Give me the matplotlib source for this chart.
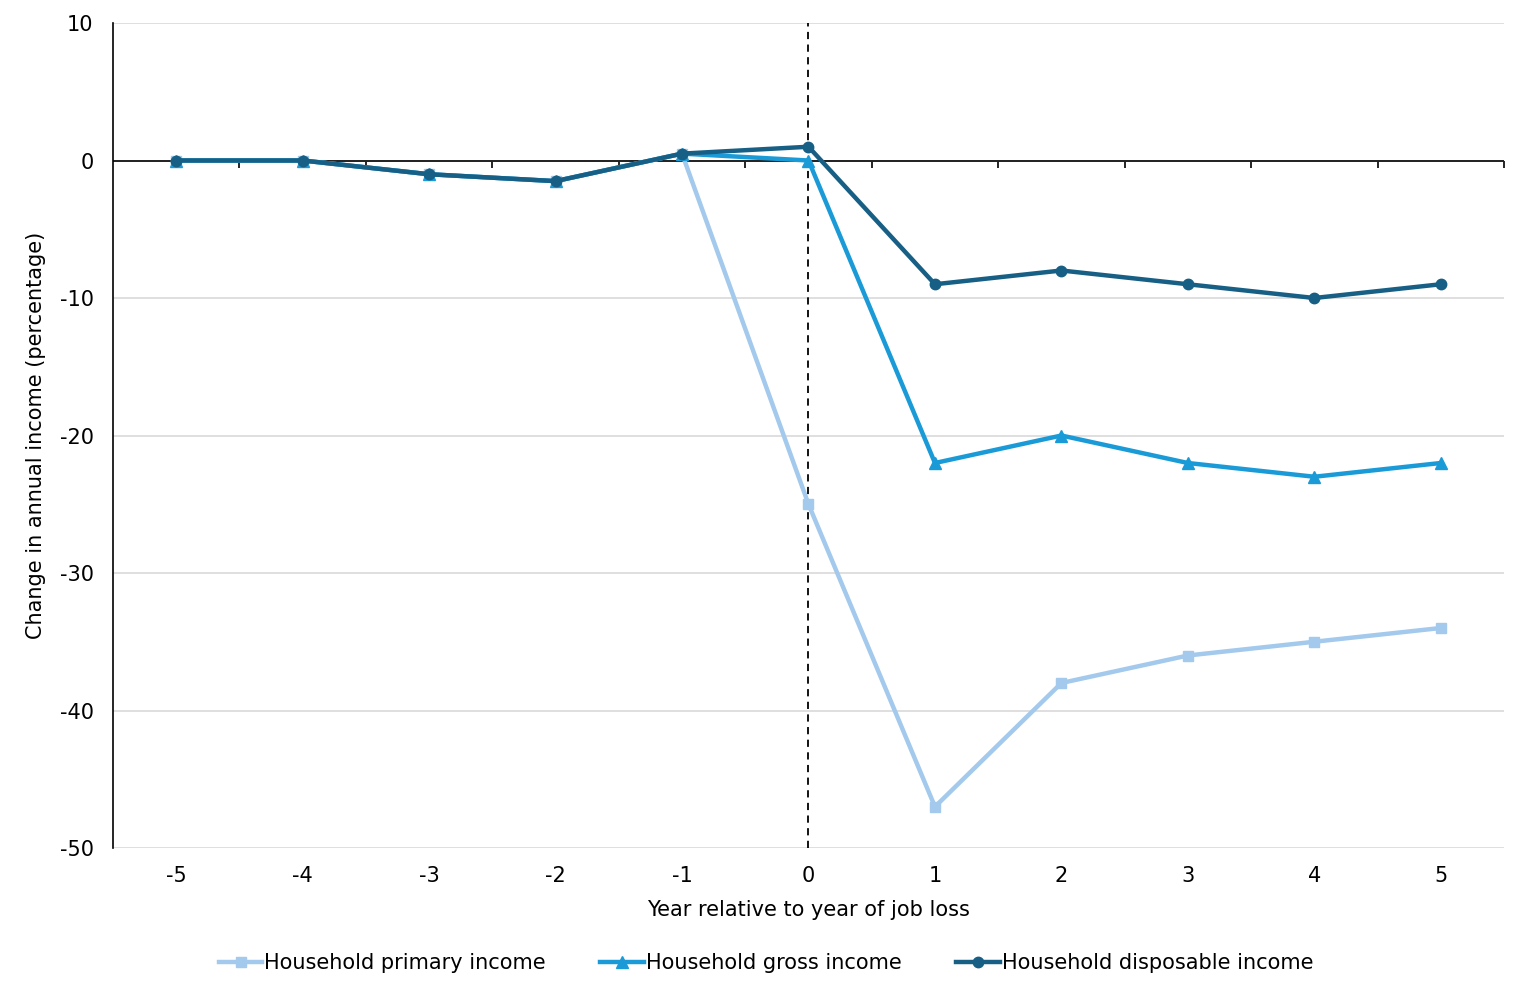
import matplotlib
matplotlib.use("Agg")
import matplotlib.pyplot as plt

years = [-5, -4, -3, -2, -1, 0, 1, 2, 3, 4, 5]
primary = [0, 0, -1, -1.5, 0.5, -25, -47, -38, -36, -35, -34]
gross = [0, 0, -1, -1.5, 0.5, 0, -22, -20, -22, -23, -22]
disposable = [0, 0, -1, -1.5, 0.5, 1, -9, -8, -9, -10, -9]
series_labels = ["Household primary income", "Household gross income", "Household disposable income"]
y_ticks = [10, 0, -10, -20, -30, -40, -50]

FS = 15
plt.rcParams['font.family'] = ['DejaVu Sans']
fig = plt.figure(figsize=(15.29, 9.97), dpi=100)
ax = fig.add_axes([113/1529, 1-848/997, (1504-113)/1529, (848-23)/997])

ax.set_xlim(-5.5, 5.5)
ax.set_ylim(-50, 10)
ax.set_yticks(y_ticks)
ax.set_yticklabels([str(v) for v in y_ticks])
ax.grid(axis='y', color='#d9d9d9', linewidth=1.2)
ax.set_axisbelow(True)

for s in ['top', 'right', 'bottom']:
    ax.spines[s].set_visible(False)
ax.spines['left'].set_color('black')
ax.spines['left'].set_linewidth(1.2)
ax.tick_params(axis='y', length=0, pad=14, labelsize=FS)
ax.set_xticks(years)
ax.set_xticklabels([str(v) for v in years])
ax.tick_params(axis='x', length=0, pad=13, labelsize=FS)

# zero line with category boundary ticks
ax.axhline(0, color='black', linewidth=1.2, zorder=2)
sec = ax.secondary_xaxis(50/60)
sec.set_xticks([y + 0.5 for y in years])
sec.tick_params(axis='x', direction='out', length=5, width=1.2, labelbottom=False, labeltop=False, bottom=True, top=False)
sec.spines['bottom'].set_visible(False)
sec.spines['top'].set_visible(False)
sec.xaxis.set_ticks_position('bottom')
sec.set_xticklabels([])

ax.axvline(0, color='black', linestyle=(0, (4, 3)), linewidth=1.3, zorder=2)

lp, = ax.plot(years, primary, color='#a3c9ec', linewidth=3.2, marker='s', markersize=7.5, zorder=3)
lg, = ax.plot(years, gross, color='#1a9bd7', linewidth=3.2, marker='^', markersize=8, zorder=4)
ld, = ax.plot(years, disposable, color='#175f84', linewidth=3.2, marker='o', markersize=7.5, zorder=5)

ax.set_xlabel("Year relative to year of job loss", fontsize=FS, labelpad=10)
ax.set_ylabel("Change in annual income (percentage)", fontsize=FS, labelpad=10)

fig.legend([lp, lg, ld], series_labels, loc='center', bbox_to_anchor=(766/1529, 1-963/997),
           ncol=3, frameon=False, fontsize=FS, handlelength=2.1, handletextpad=0.1,
           columnspacing=2.6)

fig.savefig("out.png", dpi=100)
